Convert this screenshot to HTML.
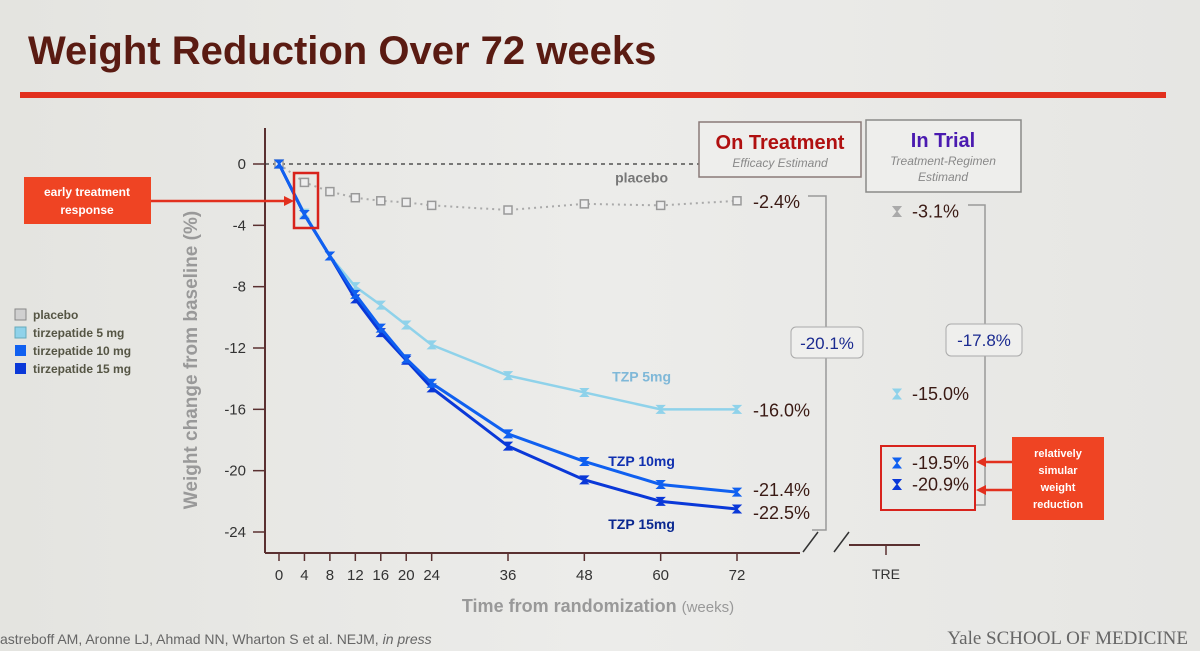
<!DOCTYPE html>
<html><head><meta charset="utf-8"><style>
body{margin:0;width:1200px;height:651px;overflow:hidden;background:linear-gradient(90deg,#e4e4e0,#ececea 50%,#e6e6e3);font-family:"Liberation Sans",sans-serif;}
svg{position:absolute;left:0;top:0}
</style></head><body>
<svg width="1200" height="651">
<text x="28" y="64" font-size="40" font-weight="bold" fill="#5a1b12">Weight Reduction Over 72 weeks</text>
<rect x="20" y="92" width="1146" height="6" fill="#e2301e"/>
<g id="chart"></g>
<rect x="24" y="177" width="127" height="47" fill="#ef4423"/>
<text x="87" y="196" font-size="12" font-weight="bold" fill="#fff" text-anchor="middle">early treatment</text>
<text x="87" y="214" font-size="12" font-weight="bold" fill="#fff" text-anchor="middle">response</text>
<line x1="151" y1="201" x2="286" y2="201" stroke="#e2301e" stroke-width="2.5"/>
<polygon points="294,201 284,196 284,206" fill="#e2301e"/>
<rect x="294" y="173" width="24" height="55" fill="none" stroke="#d8231c" stroke-width="2.5"/>
<g font-size="12" font-weight="bold" fill="#554">
<rect x="15" y="309" width="11" height="11" fill="#d0d0d0" stroke="#888"/><text x="33" y="319">placebo</text>
<rect x="15" y="327" width="11" height="11" fill="#8fd2ea" stroke="#6ab"/><text x="33" y="337">tirzepatide 5 mg</text>
<rect x="15" y="345" width="11" height="11" fill="#1060f0"/><text x="33" y="355">tirzepatide 10 mg</text>
<rect x="15" y="363" width="11" height="11" fill="#0a38d8"/><text x="33" y="373">tirzepatide 15 mg</text>
</g>
<rect x="699" y="122" width="162" height="55" fill="#eeeeec" stroke="#8a7a78" stroke-width="1.5"/>
<text x="780" y="149" font-size="20" font-weight="bold" fill="#b01010" text-anchor="middle">On Treatment</text>
<text x="780" y="167" font-size="12" font-style="italic" fill="#888" text-anchor="middle">Efficacy Estimand</text>
<rect x="866" y="120" width="155" height="72" fill="#eeeeec" stroke="#8a8a88" stroke-width="1.5"/>
<text x="943" y="147" font-size="20" font-weight="bold" fill="#4a1ab0" text-anchor="middle">In Trial</text>
<text x="943" y="165" font-size="12" font-style="italic" fill="#888" text-anchor="middle">Treatment-Regimen</text>
<text x="943" y="181" font-size="12" font-style="italic" fill="#888" text-anchor="middle">Estimand</text>
<path d="M808 196 H826 V530 H812" fill="none" stroke="#999" stroke-width="1.5"/>
<rect x="791" y="327" width="72" height="31" rx="5" fill="#efefed" stroke="#aaa"/>
<text x="827" y="349" font-size="17" fill="#1a2a90" text-anchor="middle">-20.1%</text>
<path d="M968 205 H985 V505 H975" fill="none" stroke="#999" stroke-width="1.5"/>
<rect x="946" y="324" width="76" height="32" rx="5" fill="#efefed" stroke="#aaa"/>
<text x="984" y="346" font-size="17" fill="#1a2a90" text-anchor="middle">-17.8%</text>
<rect x="881" y="446" width="94" height="64" fill="none" stroke="#d8231c" stroke-width="2"/>
<rect x="1012" y="437" width="92" height="83" fill="#ef4423"/>
<g font-size="11" font-weight="bold" fill="#fff" text-anchor="middle">
<text x="1058" y="457">relatively</text>
<text x="1058" y="474">simular</text>
<text x="1058" y="491">weight</text>
<text x="1058" y="508">reduction</text>
</g>
<line x1="1012" y1="462" x2="984" y2="462" stroke="#e2301e" stroke-width="2.5"/><polygon points="976,462 986,457 986,467" fill="#e2301e"/>
<line x1="1012" y1="490" x2="984" y2="490" stroke="#e2301e" stroke-width="2.5"/><polygon points="976,490 986,485 986,495" fill="#e2301e"/>
<path d="M803 552 L818 532 M834 552 L849 532" stroke="#333" stroke-width="1.5"/>
<line x1="849" y1="545" x2="920" y2="545" stroke="#5a3030" stroke-width="2"/>
<line x1="886" y1="545" x2="886" y2="555" stroke="#5a3030" stroke-width="1.5"/>
<text x="886" y="579" font-size="14" fill="#333" text-anchor="middle">TRE</text>
<text x="598" y="612" font-size="18" font-weight="bold" fill="#999" text-anchor="middle">Time from randomization <tspan font-size="15" font-weight="normal">(weeks)</tspan></text>
<text x="197" y="360" font-size="19" font-weight="bold" fill="#999" text-anchor="middle" transform="rotate(-90 197 360)">Weight change from baseline (%)</text>
<text x="0" y="644" font-size="14" fill="#666">astreboff AM, Aronne LJ, Ahmad NN, Wharton S et al. NEJM, <tspan font-style="italic">in press</tspan></text>
<text x="1188" y="644" font-size="19" fill="#666" text-anchor="end" font-family="Liberation Serif,serif">Yale SCHOOL OF MEDICINE</text>
</svg>
<script>
const weeks=[0,4,8,12,16,20,24,36,48,60,72];
const placebo=[0,-1.2,-1.8,-2.2,-2.4,-2.5,-2.7,-3.0,-2.6,-2.7,-2.4];
const tzp5=[0,-3.2,-6,-8,-9.2,-10.5,-11.8,-13.8,-14.9,-16.0,-16.0];
const tzp10=[0,-3.3,-6,-8.5,-10.7,-12.7,-14.3,-17.6,-19.4,-20.9,-21.4];
const tzp15=[0,-3.3,-6,-8.8,-11,-12.8,-14.6,-18.4,-20.6,-22.0,-22.5];
const yTicks=[0,-4,-8,-12,-16,-20,-24];
const endLabels=["-2.4%","-16.0%","-21.4%","-22.5%"];
const treValues=[-3.1,-15.0,-19.5,-20.9];
const treLabels=["-3.1%","-15.0%","-19.5%","-20.9%"];
const NS="http://www.w3.org/2000/svg";
const g=document.getElementById('chart');
const X=w=>279+w*(737-279)/72;
const Y=v=>164+(-v)*(532-164)/24;
const TREX=897;
function el(t,a,p){const e=document.createElementNS(NS,t);for(const k in a)e.setAttribute(k,a[k]);(p||g).appendChild(e);return e;}
let e;
e=el('line',{x1:265,y1:128,x2:265,y2:553,stroke:'#5a3030','stroke-width':2});


e=el('line',{x1:265,y1:553,x2:800,y2:553,stroke:'#5a3030','stroke-width':2});


e=el('line',{x1:265,y1:Y(0),x2:700,y2:Y(0),stroke:'#333','stroke-width':1.2,'stroke-dasharray':'4,4'});


yTicks.forEach(v=>{
 el('line',{x1:253,y1:Y(v),x2:265,y2:Y(v),stroke:'#5a3030','stroke-width':1.5});
 const t=el('text',{x:246,y:Y(v)+5,'font-size':15,fill:'#333','text-anchor':'end'});t.textContent=v;
 
 
});
weeks.forEach(w=>{
 el('line',{x1:X(w),y1:553,x2:X(w),y2:561,stroke:'#5a3030','stroke-width':1.5});
 const t=el('text',{x:X(w),y:580,'font-size':15,fill:'#333','text-anchor':'middle'});t.textContent=w;
 
 
});
const series=[[placebo,'#aaa',2,'2,4','placebo'],[tzp5,'#8fd2ea',2.5,null,'tzp5'],[tzp15,'#0a38d8',3,null,'tzp15'],[tzp10,'#1060f0',3,null,'tzp10']];
series.forEach(([d,c,sw,da,n])=>{
 const pts=d.map((v,i)=>X(weeks[i])+','+Y(v)).join(' ');
 const a={points:pts,fill:'none',stroke:c,'stroke-width':sw};if(da)a['stroke-dasharray']=da;
 e=el('polyline',a);
 
 
 d.forEach((v,i)=>{
  if(n==='placebo'){e=el('rect',{x:X(weeks[i])-4,y:Y(v)-4,width:8,height:8,fill:'#eee',stroke:'#999','stroke-width':1.5});}
  else{e=el('path',{d:`M${X(weeks[i])-4} ${Y(v)-4}h8l-4 4l4 4h-8l4 -4z`,fill:c,stroke:c,'stroke-width':1});}
  
  
 });
});
const lbl=[['placebo',X(57),Y(-1.2),'#777',14,'bold'],['TZP 5mg',X(57),Y(-14.2),'#7fb8d8',14,'bold'],['TZP 10mg',X(57),Y(-19.7),'#1030b0',14,'bold'],['TZP 15mg',X(57),Y(-23.8),'#0a2890',14,'bold']];
lbl.forEach(([s,x,y,c,f,fw])=>{const t=el('text',{x:x,y:y,'font-size':f,'font-weight':fw,fill:c,'text-anchor':'middle'});t.textContent=s;
 
 });
const finals=[placebo[10],tzp5[10],tzp10[10],tzp15[10]];
finals.forEach((v,i)=>{const t=el('text',{x:753,y:Y(v)+7+(i==3?3:i==2?-3:0),'font-size':18,fill:'#3a1a14'});t.textContent=endLabels[i];
 
 });
const treCol=['#aaa','#8fd2ea','#1060f0','#0a38d8'];
treValues.forEach((v,i)=>{
 e=el('path',{d:`M${TREX-4} ${Y(v)-5}h8l-4 5l4 5h-8l4 -5z`,fill:treCol[i],stroke:treCol[i]});
 
 
 const t=el('text',{x:912,y:Y(v)+6,'font-size':18,fill:'#3a1a14'});t.textContent=treLabels[i];
 
 
});
</script>
</body></html>
